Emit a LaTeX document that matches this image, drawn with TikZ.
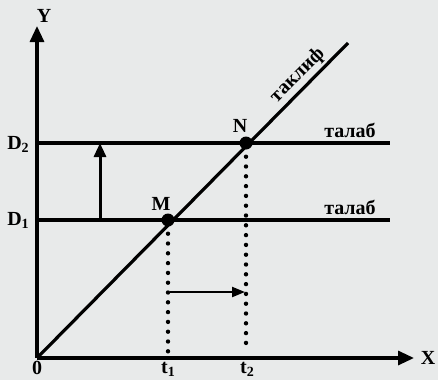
\documentclass[tikz,border=0pt]{standalone}
\usepackage{fontspec}
\setmainfont{Liberation Serif}
\usetikzlibrary{arrows.meta}
\definecolor{paper}{RGB}{232,234,234}
\newcommand{\mysub}[1]{\raisebox{-3pt}{\fontsize{14}{14}\selectfont #1}}
\begin{document}
\begin{tikzpicture}[x=1pt,y=-1pt,
  lbl/.style={font=\bfseries\fontsize{20}{20}\selectfont, inner sep=0pt},
  thick line/.style={line width=3.2pt},
  dotline/.style={line width=4.4pt, line cap=round, dash pattern=on 0pt off 9.8pt},
  pt/.style={circle, fill=black, minimum size=13pt, inner sep=0pt},
  ax/.style={thick line, -{Triangle[length=16pt,width=14pt]}}
]
\useasboundingbox[fill=paper] (0,0) rectangle (438,380);
% points
\coordinate (O) at (37,358);
\coordinate (Ytop) at (37,26);
\coordinate (Xend) at (414,358);
\coordinate (D2l) at (37,143);
\coordinate (D1l) at (37,220);
\coordinate (D2r) at (390,143);
\coordinate (D1r) at (390,220);
\coordinate (S) at (348,43);
\node[pt] (M) at (168,220) {};
\node[pt] (N) at (246,143) {};
\coordinate (t1) at (168,353);
\coordinate (t2) at (246,346);
\coordinate (a1) at (100,220);
\coordinate (a2) at (100,143);
\coordinate (h1) at (170,292);
\coordinate (h2) at (245,292);
% axes
\draw[ax] (O) -- (Ytop);
\draw[ax] (O) -- (Xend);
% lines
\draw[thick line] (D2l) -- (D2r);
\draw[thick line] (D1l) -- (D1r);
\draw[thick line] (O) -- (S);
% dotted
\draw[dotline] (M.south) ++(0,7) -- (t1);
\draw[dotline] (N.south) ++(0,7) -- (t2);
% arrows
\draw[line width=3pt, -{Triangle[length=14pt,width=12pt]}] (a1) -- (a2);
\draw[line width=2.2pt, -{Triangle[length=13pt,width=10pt]}] (h1) -- (h2);
% labels
\node[lbl] (Y) at (44,16) {Y};
\node[lbl] (X) at (428,358) {X};
\node[lbl] (zero) at (37,368) {0};
\node[lbl, anchor=base] (lt1) at (168,373) {t\mysub{1}};
\node[lbl, anchor=base] (lt2) at (247,373) {t\mysub{2}};
\node[lbl, anchor=base] (lD2) at (18,149) {D\mysub{2}};
\node[lbl, anchor=base] (lD1) at (18,225) {D\mysub{1}};
\node[lbl] (lM) at (161,204) {M};
\node[lbl] (lN) at (240,126) {N};
\node[lbl, anchor=base] (tal2) at (350,137) {талаб};
\node[lbl, anchor=base] (tal1) at (350,214) {талаб};
\node[lbl, rotate=45, anchor=base] (takl) at (301,79) {таклиф};
\end{tikzpicture}
\end{document}
